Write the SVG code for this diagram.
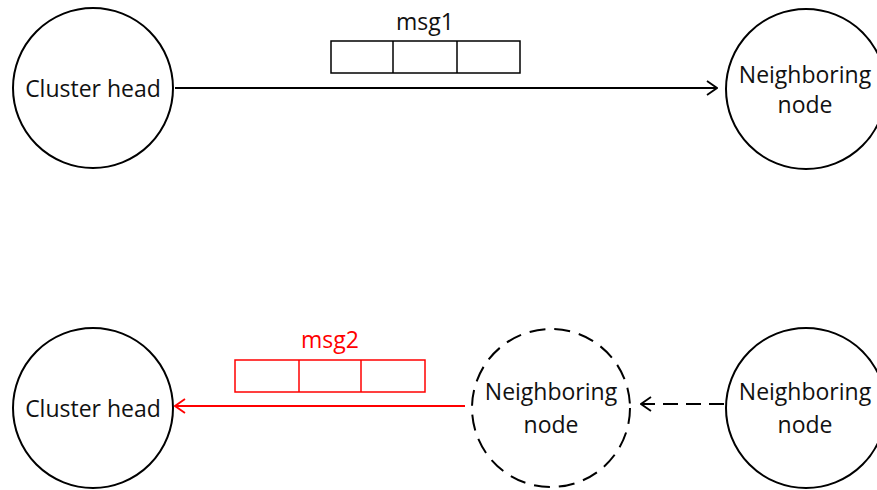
<svg xmlns="http://www.w3.org/2000/svg" width="877" height="490" viewBox="0 0 877 490">
  <style>
    .node { fill: #ffffff; stroke: #000000; stroke-width: 2; }
    .dashed { stroke-dasharray: 16 9; }
    .label { font-family: "Open Sans", "Liberation Sans", sans-serif; font-size: 23px; fill: #111111; text-anchor: middle; }
    .red { fill: #ff0000; }
    .cell { fill: none; stroke: #000000; stroke-width: 1.5; }
    .cell-red { fill: none; stroke: #ff0000; stroke-width: 1.5; }
    .wire { fill: none; stroke-width: 1.8; }
  </style>
  <defs>
    <marker id="chevBlack" viewBox="0 0 12 16" refX="11" refY="8" markerWidth="12" markerHeight="16" markerUnits="userSpaceOnUse" orient="auto">
      <path d="M1,1 L11,8 L1,15" fill="none" stroke="#000000" stroke-width="1.8"/>
    </marker>
    <marker id="chevRed" viewBox="0 0 12 16" refX="11" refY="8" markerWidth="12" markerHeight="16" markerUnits="userSpaceOnUse" orient="auto">
      <path d="M1,1 L11,8 L1,15" fill="none" stroke="#ff0000" stroke-width="1.8"/>
    </marker>
  </defs>

  <!-- message connectors -->
  <g id="connectors">
    <line class="wire" x1="175" y1="88" x2="717" y2="88" stroke="#000000" marker-end="url(#chevBlack)"/>
    <line class="wire" x1="465" y1="406" x2="175" y2="406" stroke="#ff0000" marker-end="url(#chevRed)"/>
    <line class="wire" x1="724" y1="404" x2="641" y2="404" stroke="#000000" stroke-dasharray="15 8" marker-end="url(#chevBlack)"/>
  </g>

  <!-- message packets -->
  <g id="msg1">
    <text class="label" x="425" y="30">msg1</text>
    <rect class="cell" x="331" y="41" width="189" height="32"/>
    <line class="cell" x1="393" y1="41" x2="393" y2="73"/>
    <line class="cell" x1="457" y1="41" x2="457" y2="73"/>
  </g>
  <g id="msg2">
    <text class="label red" x="330" y="348">msg2</text>
    <rect class="cell-red" x="235" y="360" width="190" height="32"/>
    <line class="cell-red" x1="299" y1="360" x2="299" y2="392"/>
    <line class="cell-red" x1="361" y1="360" x2="361" y2="392"/>
  </g>

  <!-- nodes -->
  <g id="cluster-head-top">
    <circle class="node" cx="93" cy="88" r="80"/>
    <text class="label" x="93" y="97">Cluster head</text>
  </g>
  <g id="neighbor-top">
    <circle class="node" cx="806" cy="89" r="80"/>
    <text class="label" x="805" y="83">Neighboring</text>
    <text class="label" x="805" y="113">node</text>
  </g>
  <g id="cluster-head-bottom">
    <circle class="node" cx="93" cy="408" r="80"/>
    <text class="label" x="93" y="417">Cluster head</text>
  </g>
  <g id="neighbor-relay">
    <circle class="node dashed" cx="551" cy="408" r="79"/>
    <text class="label" x="551" y="400">Neighboring</text>
    <text class="label" x="551" y="433">node</text>
  </g>
  <g id="neighbor-bottom">
    <circle class="node" cx="806" cy="408" r="80"/>
    <text class="label" x="805" y="400">Neighboring</text>
    <text class="label" x="805" y="433">node</text>
  </g>
</svg>
